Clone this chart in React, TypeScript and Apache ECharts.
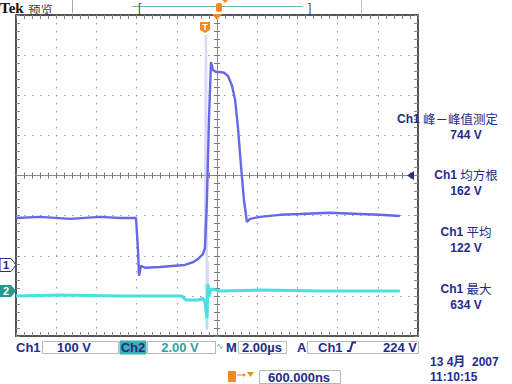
import React, { useEffect, useRef } from "react";
import * as echarts from "echarts";

// time in microseconds relative to screen centre, volts relative to channel ground
const ch1Time = [-10.0, -8.81, -7.31, -5.82, -4.83, -4.03, -3.93, -3.88, -3.78, -3.58, -2.84, -2.09, -1.59, -1.19, -0.9, -0.7, -0.6, -0.5, -0.4, -0.3, -0.2, -0.05, 0.15, 0.35, 0.55, 0.75, 0.9, 1.04, 1.19, 1.34, 1.49, 1.64, 2.14, 3.13, 4.13, 5.62, 7.11, 8.11, 9.1];
const ch1Volts = [117, 120, 115, 120, 117, 117, 37, -27, -2, -7, -5, -2, 0, 7, 17, 27, 42, 162, 362, 506, 486, 481, 481, 479, 471, 446, 412, 344, 249, 162, 107, 115, 120, 125, 127, 130, 127, 125, 122];
const ch1TransTime = [-0.6, -0.55, -0.5, -0.45];
const ch1TransVolts = [37, 574, -162, 7];

const ch2Time = [-10.0, -7.81, -4.83, -1.74, -1.54, -0.95, -0.7, -0.6, -0.5, -0.45, -0.4, -0.3, 0.15, 2.14, 5.12, 9.1];
const ch2Volts = [-0.25, -0.2, -0.25, -0.25, -0.45, -0.45, -0.35, -0.55, -1.35, 0.35, -0.25, 0.1, 0, 0.05, 0, 0];
const ch2TransTime = [-0.55, -0.5, -0.45];
const ch2TransVolts = [0.4, -1.85, 0.3];

const ch1VoltsPerDiv = 100;
const ch2VoltsPerDiv = 2;
const ch1OffsetDiv = -2.23;
const ch2OffsetDiv = -2.88;

const measureNames = ["峰－峰值测定", "均方根", "平均", "最大"];
const measureValues = ["744 V", "162 V", "122 V", "634 V"];

const GL = 16, GT = 15, GW = 402, GH = 321;
const NAVY = "#232c8c";
const TEAL = "#2ea3a0";
const ORANGE = "#f08a24";
const LAT = "'Liberation Sans', Arial, sans-serif";
const CJK = "'Noto Sans CJK SC', sans-serif";

function App() {
  const ref = useRef<HTMLDivElement>(null);
  useEffect(() => {
    if (!ref.current) return;
    const chart = echarts.init(ref.current, null, { renderer: "svg" });

    const base = (extra: any) => ({
      type: "value",
      axisLabel: { show: false },
      splitLine: { show: false },
      ...extra,
    });
    const borderTick = (inside: boolean, len: number, color: string) => ({
      axisTick: { show: true, inside, length: len, lineStyle: { color, width: 1 } },
      minorTick: { show: true, splitNumber: 5, length: len, lineStyle: { color, width: 1 } },
    });
    const dotted = { show: true, lineStyle: { color: "#9a9a9a", width: 1.2, type: [1.5, 6.5] } };

    const xAxes = [
      base({ min: -10, max: 10, interval: 2, position: "bottom", axisLine: { show: true, onZero: false, lineStyle: { color: "#555", width: 2 } }, ...borderTick(true, 4, "#888"), splitLine: dotted }),
      base({ min: -10, max: 10, interval: 2, position: "top", axisLine: { show: true, onZero: false, lineStyle: { color: "#555", width: 2 } }, ...borderTick(true, 4, "#888") }),
      base({ min: -10, max: 10, interval: 2, position: "bottom", axisLine: { show: true, onZero: true, onZeroAxisIndex: 0, lineStyle: { color: "#8a8a8a", width: 1 } }, ...borderTick(true, 3, "#777") }),
      base({ min: -10, max: 10, interval: 2, position: "bottom", axisLine: { show: true, onZero: true, onZeroAxisIndex: 0, lineStyle: { color: "#8a8a8a", width: 1 } }, ...borderTick(false, 3, "#777") }),
    ];
    const yAxes = [
      base({ min: -4, max: 4, interval: 1, position: "left", axisLine: { show: true, onZero: false, lineStyle: { color: "#555", width: 2 } }, ...borderTick(true, 4, "#888"), splitLine: dotted }),
      base({ min: -4, max: 4, interval: 1, position: "right", axisLine: { show: true, onZero: false, lineStyle: { color: "#555", width: 2 } }, ...borderTick(true, 4, "#888") }),
      base({ min: -4, max: 4, interval: 1, position: "left", axisLine: { show: true, onZero: true, onZeroAxisIndex: 0, lineStyle: { color: "#8a8a8a", width: 1 } }, ...borderTick(true, 3, "#777") }),
      base({ min: -4, max: 4, interval: 1, position: "left", axisLine: { show: true, onZero: true, onZeroAxisIndex: 0, lineStyle: { color: "#8a8a8a", width: 1 } }, ...borderTick(false, 3, "#777") }),
    ];

    const ch1Data = ch1Time.map((t, i) => [t, ch1Volts[i] / ch1VoltsPerDiv + ch1OffsetDiv]);
    const ch1Trans = ch1TransTime.map((t, i) => [t, ch1TransVolts[i] / ch1VoltsPerDiv + ch1OffsetDiv]);
    const ch2Data = ch2Time.map((t, i) => [t, ch2Volts[i] / ch2VoltsPerDiv + ch2OffsetDiv]);
    const ch2Trans = ch2TransTime.map((t, i) => [t, ch2TransVolts[i] / ch2VoltsPerDiv + ch2OffsetDiv]);

    const lineSeries = (name: string, data: any, color: string, width: number, z: number) => ({
      name, type: "line", data, showSymbol: false, symbol: "none", z,
      lineStyle: { color, width }, xAxisIndex: 0, yAxisIndex: 0, silent: true,
    });

    const yOf = (off: number) => GT + ((4 - off) / 8) * GH;
    const g1 = yOf(ch1OffsetDiv);
    const g2 = yOf(ch2OffsetDiv);

    const txt = (x: number, y: number, text: string, font: string, fill: string, align = "left", lh?: number) => ({
      type: "text", x, y, z: 100,
      style: { text, font, fill, textAlign: align, textVerticalAlign: "middle", lineHeight: lh },
    });
    const box = (x: number, y: number, w: number, h: number, fill = "#fff", stroke = "#b8b8b8") => ({
      type: "rect", z: 90, shape: { x, y, width: w, height: h }, style: { fill, stroke, lineWidth: 1 },
    });

    const measY = [126.5, 182.5, 239.5, 296.5];
    const measureGraphics: any[] = [];
    measureNames.forEach((n, i) => {
      measureGraphics.push({
        type: "text", z: 100, x: i === 0 ? 397 : 466, y: measY[i] - 8,
        style: {
          text: "{a|Ch1} {b|" + n + "}",
          textAlign: i === 0 ? "left" : "center", textVerticalAlign: "middle",
          rich: {
            a: { font: "bold 12px " + LAT, fill: NAVY, lineHeight: 12 },
            b: { font: "12.5px " + CJK, fill: NAVY, lineHeight: 12 },
          },
        },
      });
      measureGraphics.push(txt(466, measY[i] + 8, measureValues[i], "bold 12px " + LAT, NAVY, "center", 12));
    });

    chart.setOption({
      animation: false,
      backgroundColor: "#ffffff",
      grid: { left: GL, top: GT, width: GW, height: GH, containLabel: false },
      xAxis: xAxes,
      yAxis: yAxes,
      series: [
        lineSeries("Ch1 transient", ch1Trans, "rgba(170,170,245,0.45)", 2.5, 2),
        lineSeries("Ch1", ch1Data, "#6767e8", 2.4, 3),
        lineSeries("Ch2 transient", ch2Trans, "rgba(130,235,235,0.5)", 2.5, 4),
        lineSeries("Ch2", ch2Data, "#48e0e0", 3, 5),
      ],
      graphic: [
        // top bar
        txt(0, 8, "Tek", "bold 15px 'Liberation Serif', serif", "#111", "left", 14),
        txt(28, 9, "预览", "12.5px " + CJK, "#444", "left", 14),
        { type: "line", z: 90, shape: { x1: 72.5, y1: 0, x2: 72.5, y2: 13 }, style: { stroke: "#aaa", lineWidth: 1 } },
        { type: "line", z: 90, shape: { x1: 361.5, y1: 0, x2: 361.5, y2: 13 }, style: { stroke: "#bbb", lineWidth: 1 } },
        { type: "line", z: 90, shape: { x1: 132, y1: 6.5, x2: 303, y2: 6.5 }, style: { stroke: "#6fb9ae", lineWidth: 1 } },
        txt(138, 7.5, "[", "12px " + LAT, "#444", "left", 13),
        txt(308, 7.5, "]", "12px " + LAT, "#444", "left", 13),
        { type: "rect", z: 95, shape: { x: 216, y: 3, width: 6, height: 9, r: 2 }, style: { fill: ORANGE } },
        { type: "polygon", z: 95, shape: { points: [[222, 0], [228, 0], [225, 3]] }, style: { fill: ORANGE } },
        // trigger markers
        { type: "polygon", z: 95, shape: { points: [[212, 14], [222, 14], [217, 20]] }, style: { fill: ORANGE } },
        { type: "polygon", z: 95, shape: { points: [[200, 22], [210, 22], [210, 30], [205, 33], [200, 30]] }, style: { fill: ORANGE } },
        txt(205, 27, "T", "bold 9px " + LAT, "#fff", "center"),
        // channel ground markers
        { type: "polygon", z: 95, shape: { points: [[0, g1 - 6.5], [11, g1 - 6.5], [16, g1], [11, g1 + 6.5], [0, g1 + 6.5]] }, style: { fill: "#fff", stroke: NAVY, lineWidth: 1 } },
        txt(6, g1, "1", "bold 11px " + LAT, NAVY, "center"),
        { type: "polygon", z: 95, shape: { points: [[0, g2 - 6], [11, g2 - 6], [16, g2], [11, g2 + 6], [0, g2 + 6]] }, style: { fill: "#239a8e" } },
        txt(6, g2, "2", "bold 11px " + LAT, "#fff", "center"),
        // trigger level arrow
        { type: "polygon", z: 95, shape: { points: [[414, GT + GH / 2 - 4.5], [414, GT + GH / 2 + 4.5], [407, GT + GH / 2]] }, style: { fill: NAVY } },
        // measurements
        ...measureGraphics,
        // bottom status row
        txt(16, 347, "Ch1", "bold 13px " + LAT, NAVY),
        box(42.5, 341.5, 76, 12),
        txt(74, 347, "100 V", "bold 13px " + LAT, NAVY, "center"),
        box(120, 341, 26, 13, "#3cb2b0", "#3cb2b0"),
        txt(133, 347, "Ch2", "bold 13px " + LAT, NAVY, "center"),
        box(147.5, 341.5, 68, 12),
        txt(180, 347, "2.00 V", "bold 13px " + LAT, TEAL, "center"),
        txt(216, 346, "∿", "9px 'DejaVu Sans', sans-serif", "#6aa"),
        txt(226, 347, "M", "bold 13px " + LAT, NAVY),
        box(238.5, 341.5, 48, 12),
        txt(262, 347, "2.00µs", "bold 13px " + LAT, NAVY, "center"),
        txt(297, 347, "A", "bold 13px " + LAT, NAVY),
        box(307.5, 341.5, 111, 12),
        txt(318, 347, "Ch1", "bold 13px " + LAT, NAVY),
        { type: "polyline", z: 100, shape: { points: [[347, 351], [350, 351], [352.5, 342.5], [356, 342.5]] }, style: { stroke: NAVY, lineWidth: 2, fill: null } },
        txt(417, 347, "224 V", "bold 13px " + LAT, NAVY, "right"),
        // date/time
        txt(430, 362, "13 4月  2007", "bold 12px " + LAT + ", " + CJK, NAVY, "left", 13),
        txt(430, 377, "11:10:15", "bold 12px " + LAT, NAVY, "left", 13),
        // delay
        { type: "rect", z: 95, shape: { x: 228, y: 371, width: 8, height: 11, r: 1 }, style: { fill: ORANGE } },
        { type: "line", z: 95, shape: { x1: 237, y1: 375, x2: 245, y2: 375 }, style: { stroke: ORANGE, lineWidth: 1 } },
        { type: "polygon", z: 95, shape: { points: [[243, 373], [246, 375], [243, 377]] }, style: { fill: ORANGE } },
        { type: "polygon", z: 95, shape: { points: [[247, 372], [254, 372], [250.5, 377]] }, style: { fill: ORANGE } },
        box(259.5, 370.5, 81, 13),
        txt(299, 377, "600.000ns", "bold 13px " + LAT, NAVY, "center"),
      ],
    });
    return () => chart.dispose();
  }, []);
  return (
    <div
      ref={ref}
      style={{ position: "fixed", left: 0, top: 0, width: 512, height: 384, background: "#fff" }}
    />
  );
}

export default App;
